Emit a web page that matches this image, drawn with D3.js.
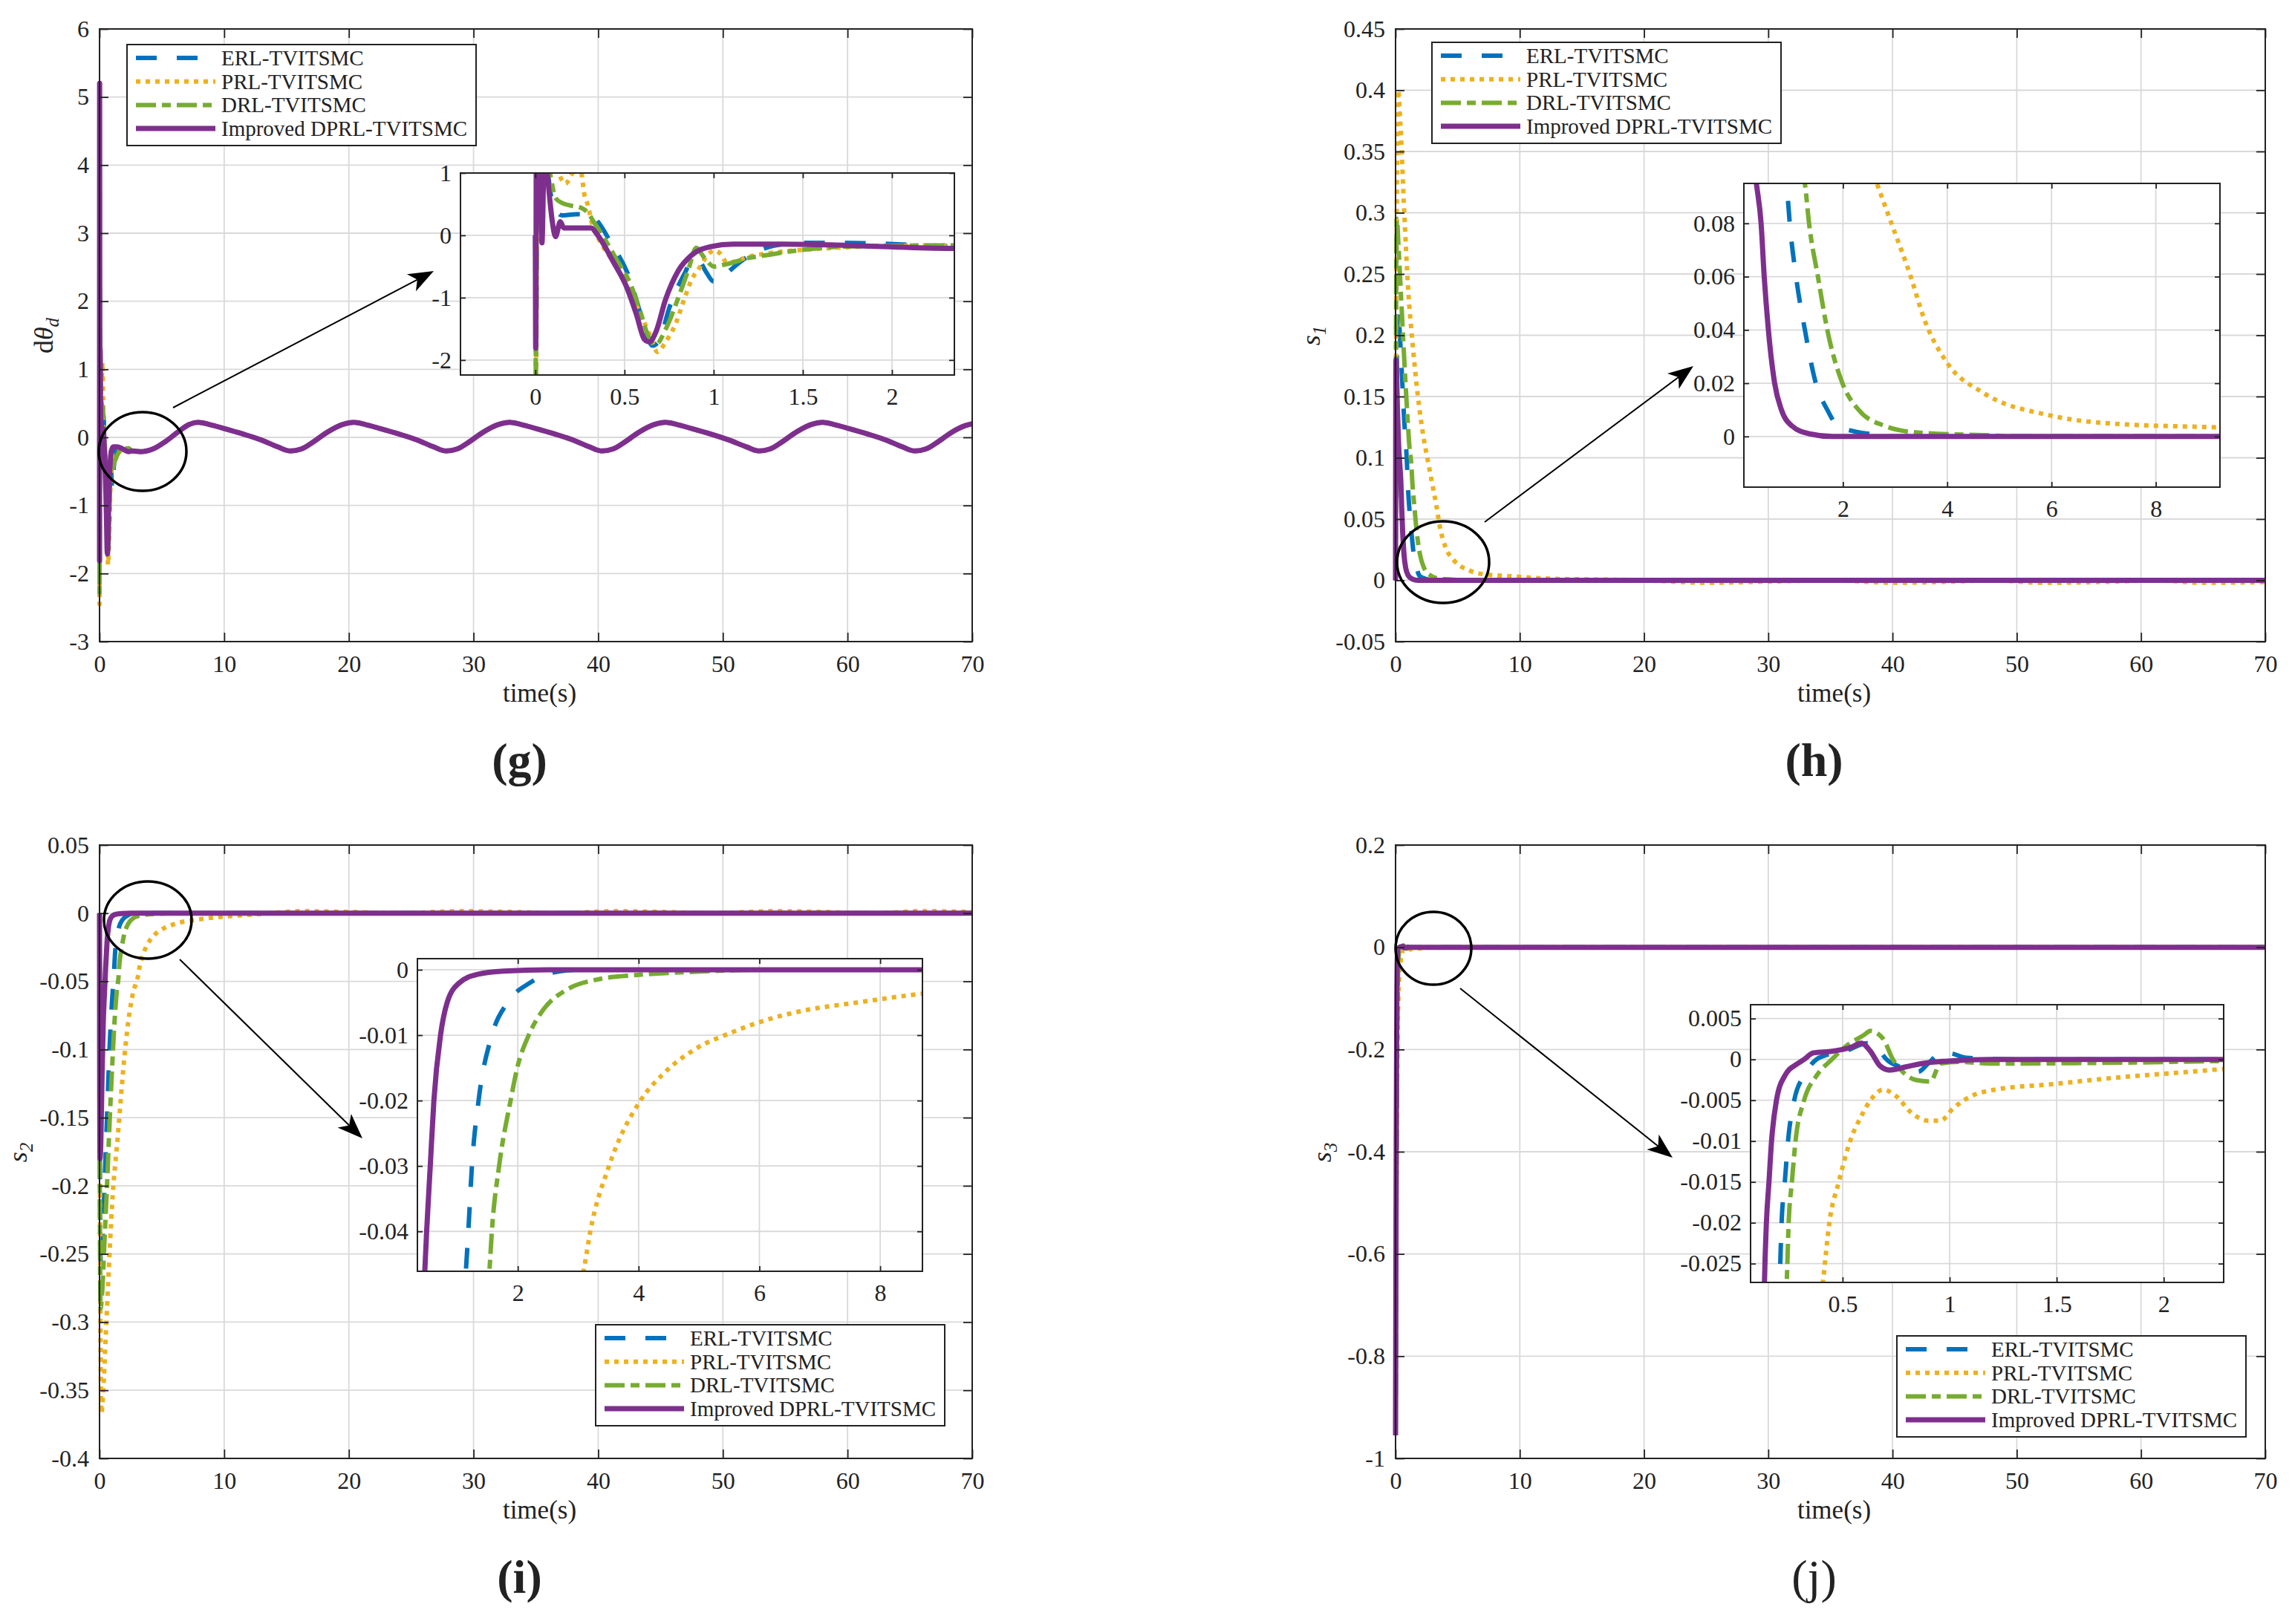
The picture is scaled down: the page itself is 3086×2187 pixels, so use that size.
<!DOCTYPE html>
<html lang="en">
<head>
<meta charset="UTF-8" />
<title>Sliding variables</title>
<style>
  body { margin: 0; background: #fff; }
  svg { display: block; }
  text { font-family: "Liberation Serif", "Times New Roman", serif; fill: #222; }
</style>
</head>
<body>
<svg id="svg" width="3086" height="2187"></svg>
<script src="https://cdn.jsdelivr.net/npm/d3@7"></script>
<script>
// ---------------- DATA ----------------
const seriesNames = ["ERL-TVITSMC", "PRL-TVITSMC", "DRL-TVITSMC", "Improved DPRL-TVITSMC"];

const timeTicks = [0, 10, 20, 30, 40, 50, 60, 70];
const timeLabels = ["0", "10", "20", "30", "40", "50", "60", "70"];

// (g) d theta_d : common slow oscillation after the transient
const gTail = [[2.6,-0.2],[3.3,-0.21],[4.3,-0.17],[5.3,-0.06],[6.3,0.08],[7.2,0.19],[7.9,0.22],[8.8,0.19],[10,0.13],[11.5,0.05],[13,-0.04],[14.3,-0.14],[15.3,-0.2],[16.2,-0.17],[17.2,-0.06],[18.3,0.08],[19.5,0.19],[20.4,0.22],[21.3,0.19],[22.5,0.13],[24,0.05],[25.5,-0.04],[26.8,-0.14],[27.8,-0.2],[28.7,-0.17],[29.7,-0.06],[30.8,0.08],[32,0.19],[32.9,0.22],[33.8,0.19],[35,0.13],[36.5,0.05],[38,-0.04],[39.3,-0.14],[40.3,-0.2],[41.2,-0.17],[42.2,-0.06],[43.3,0.08],[44.5,0.19],[45.4,0.22],[46.3,0.19],[47.5,0.13],[49,0.05],[50.5,-0.04],[51.9,-0.14],[52.9,-0.2],[53.8,-0.17],[54.8,-0.06],[55.9,0.08],[57.1,0.19],[58,0.22],[58.9,0.19],[60.1,0.13],[61.6,0.05],[63.1,-0.04],[64.4,-0.14],[65.4,-0.2],[66.3,-0.17],[67.3,-0.06],[68.4,0.08],[69.4,0.17],[70,0.2]];
const gERL = [[0,0],[0.004,-1.9],[0.012,2.5],[0.03,1.5],[0.06,1.2],[0.09,0.6],[0.113,0.42],[0.15,0.32],[0.231,0.34],[0.313,0.33],[0.35,0.22],[0.42,-0.1],[0.53,-0.7],[0.6,-1.35],[0.657,-1.77],[0.7,-1.65],[0.748,-1.19],[0.839,-0.6],[0.88,-0.4],[0.92,-0.42],[0.96,-0.6],[1.0,-0.74],[1.05,-0.68],[1.093,-0.56],[1.202,-0.32],[1.293,-0.2],[1.49,-0.12],[1.72,-0.12],[2.345,-0.18]];
const gPRL = [[0,0],[0.003,-2.45],[0.012,0.5],[0.05,1.2],[0.1,1.15],[0.168,0.83],[0.22,1.05],[0.25,1.1],[0.276,0.64],[0.295,0.48],[0.313,0.24],[0.367,-0.12],[0.422,-0.36],[0.512,-0.8],[0.585,-1.23],[0.64,-1.59],[0.685,-1.87],[0.73,-1.71],[0.785,-1.43],[0.839,-0.99],[0.875,-0.72],[0.92,-0.52],[0.966,-0.32],[1.002,-0.24],[1.04,-0.3],[1.075,-0.44],[1.2,-0.34],[1.383,-0.26],[1.565,-0.22],[1.746,-0.19],[2.345,-0.16]];
const gDRL = [[0,0],[0.003,-2.28],[0.01,1.6],[0.04,1.3],[0.077,1.05],[0.113,0.6],[0.15,0.52],[0.195,0.48],[0.258,0.44],[0.295,0.36],[0.331,0.2],[0.385,-0.04],[0.458,-0.4],[0.53,-0.76],[0.585,-1.19],[0.63,-1.59],[0.676,-1.75],[0.73,-1.51],[0.803,-0.99],[0.857,-0.56],[0.902,-0.2],[0.948,-0.36],[1.002,-0.5],[1.075,-0.46],[1.2,-0.36],[1.293,-0.32],[1.474,-0.24],[1.746,-0.18],[2.345,-0.16]];
const gDPRL = [[0,0],[0.002,-1.81],[0.008,5.2],[0.018,2.2],[0.028,1.1],[0.037,-0.12],[0.05,1.3],[0.065,1.05],[0.08,0.6],[0.095,0.22],[0.113,-0.02],[0.14,0.22],[0.159,0.12],[0.313,0.12],[0.35,0],[0.44,-0.44],[0.512,-0.83],[0.567,-1.27],[0.612,-1.67],[0.64,-1.71],[0.676,-1.55],[0.73,-1.03],[0.803,-0.56],[0.875,-0.32],[0.984,-0.18],[1.11,-0.14],[1.383,-0.14],[1.746,-0.16],[2.345,-0.21]];
const gYTicks = [-3, -2, -1, 0, 1, 2, 3, 4, 5, 6];
const gYLabels = ["-3", "-2", "-1", "0", "1", "2", "3", "4", "5", "6"];
const gInXTicks = [0, 0.5, 1, 1.5, 2];
const gInXLabels = ["0", "0.5", "1", "1.5", "2"];
const gInYTicks = [-2, -1, 0, 1];
const gInYLabels = ["-2", "-1", "0", "1"];

// (h) s1
const hERL = [[0,0],[0.05,0.12],[0.2,0.22],[0.35,0.2],[0.5,0.17],[0.7,0.13],[0.92,0.095],[0.98,0.08],[1.1,0.06],[1.27,0.04],[1.48,0.02],[1.7,0.01],[1.9,0.004],[2.2,0.002],[2.5,0.001],[3,0],[70,0]];
const hPRL = [[0,0],[0.05,0.2],[0.2,0.4],[0.4,0.37],[0.7,0.3],[1.0,0.24],[1.4,0.19],[1.8,0.15],[2.2,0.12],[2.65,0.095],[2.93,0.08],[3.3,0.06],[3.56,0.044],[4.0,0.0276],[4.69,0.0164],[5.95,0.008],[7.2,0.0048],[9.23,0.0034],[12,0.0015],[20,0],[25,-0.002],[30,-0.001],[35,0],[40,-0.002],[45,-0.001],[48,0],[52,-0.002],[58,-0.001],[61,0],[65,-0.002],[70,-0.0015]];
const hDRL = [[0,0],[0.04,0.2],[0.1,0.295],[0.25,0.27],[0.45,0.23],[0.7,0.18],[0.95,0.135],[1.15,0.105],[1.27,0.095],[1.35,0.08],[1.52,0.06],[1.7,0.04],[1.99,0.02],[2.3,0.01],[2.8,0.004],[3.43,0.0015],[4.7,0.0005],[5.5,0],[70,0]];
const hDPRL = [[0,0],[0.03,0.18],[0.08,0.17],[0.15,0.14],[0.25,0.11],[0.34,0.095],[0.43,0.08],[0.49,0.06],[0.57,0.04],[0.69,0.02],[0.82,0.01],[1.02,0.004],[1.36,0.001],[1.8,0],[70,0]];
const hYTicks = [-0.05, 0, 0.05, 0.1, 0.15, 0.2, 0.25, 0.3, 0.35, 0.4, 0.45];
const hYLabels = ["-0.05", "0", "0.05", "0.1", "0.15", "0.2", "0.25", "0.3", "0.35", "0.4", "0.45"];
const hInXTicks = [2, 4, 6, 8];
const hInXLabels = ["2", "4", "6", "8"];
const hInYTicks = [0, 0.02, 0.04, 0.06, 0.08];
const hInYLabels = ["0", "0.02", "0.04", "0.06", "0.08"];

// (i) s2
const iERL = [[0,0],[0.02,-0.15],[0.1,-0.26],[0.2,-0.25],[0.4,-0.2],[0.6,-0.15],[0.8,-0.1],[1.0,-0.065],[1.14,-0.046],[1.18,-0.04],[1.24,-0.03],[1.35,-0.02],[1.57,-0.01],[1.83,-0.005],[2.2,-0.002],[2.54,-0.0005],[3,0],[70,0]];
const iPRL = [[0,0],[0.03,-0.2],[0.15,-0.367],[0.3,-0.35],[0.5,-0.31],[0.7,-0.27],[1.0,-0.215],[1.5,-0.16],[1.9,-0.115],[2.3,-0.08],[2.7,-0.058],[3.09,-0.046],[3.2,-0.04],[3.51,-0.03],[4.03,-0.02],[4.41,-0.0159],[4.96,-0.012],[5.51,-0.0097],[6.07,-0.0078],[6.6,-0.0065],[7.7,-0.0049],[8.65,-0.0037],[10,-0.0025],[13,-0.0005],[16,0.0015],[20,0.001],[24,0],[29,0.0015],[33,0.001],[37,0],[41,0.0015],[45,0.001],[49,0],[54,0.0015],[58,0.001],[62,0],[66,0.0015],[70,0.001]];
const iDRL = [[0,0],[0.02,-0.18],[0.08,-0.29],[0.2,-0.28],[0.4,-0.24],[0.6,-0.2],[0.8,-0.155],[1.0,-0.115],[1.2,-0.08],[1.4,-0.056],[1.53,-0.046],[1.57,-0.04],[1.69,-0.03],[1.88,-0.02],[1.99,-0.015],[2.18,-0.01],[2.43,-0.006],[2.82,-0.003],[3.31,-0.0015],[3.97,-0.0008],[4.96,-0.0003],[6,0],[70,0]];
const iDPRL = [[0,0],[0.01,-0.1],[0.04,-0.18],[0.1,-0.17],[0.2,-0.12],[0.3,-0.08],[0.4,-0.058],[0.46,-0.046],[0.49,-0.04],[0.55,-0.03],[0.61,-0.02],[0.72,-0.01],[0.83,-0.005],[1.03,-0.002],[1.33,-0.0007],[1.77,-0.0002],[2.5,0],[70,0]];
const iYTicks = [-0.4, -0.35, -0.3, -0.25, -0.2, -0.15, -0.1, -0.05, 0, 0.05];
const iYLabels = ["-0.4", "-0.35", "-0.3", "-0.25", "-0.2", "-0.15", "-0.1", "-0.05", "0", "0.05"];
const iInXTicks = [2, 4, 6, 8];
const iInXLabels = ["2", "4", "6", "8"];
const iInYTicks = [-0.04, -0.03, -0.02, -0.01, 0];
const iInYLabels = ["-0.04", "-0.03", "-0.02", "-0.01", "0"];

// (j) s3
const jERL = [[0,-0.955],[0.04,-0.6],[0.08,-0.32],[0.12,-0.15],[0.16,-0.07],[0.19,-0.04],[0.206,-0.0273],[0.215,-0.02],[0.23,-0.015],[0.245,-0.01],[0.274,-0.005],[0.319,-0.002],[0.378,0],[0.42,0.0005],[0.51,0.001],[0.616,0.002],[0.66,0.0015],[0.705,0],[0.78,-0.001],[0.853,-0.0015],[0.9,-0.0005],[0.96,0.0008],[0.99,0.0008],[1.08,0.0002],[1.3,0],[70,0]];
const jPRL = [[0,-0.955],[0.06,-0.55],[0.12,-0.28],[0.2,-0.13],[0.28,-0.065],[0.35,-0.04],[0.408,-0.0273],[0.438,-0.02],[0.482,-0.015],[0.535,-0.01],[0.586,-0.007],[0.63,-0.005],[0.69,-0.0037],[0.75,-0.0045],[0.82,-0.0065],[0.9,-0.0075],[0.957,-0.0075],[1.016,-0.006],[1.1,-0.0045],[1.19,-0.0038],[1.49,-0.003],[1.79,-0.0022],[2.08,-0.0016],[2.27,-0.0012],[3,-0.0005],[5,0],[70,0]];
const jDRL = [[0,-0.955],[0.05,-0.58],[0.1,-0.3],[0.15,-0.13],[0.2,-0.055],[0.225,-0.035],[0.239,-0.0273],[0.248,-0.02],[0.263,-0.015],[0.28,-0.01],[0.32,-0.005],[0.378,-0.002],[0.45,0],[0.51,0.0015],[0.6,0.003],[0.63,0.0035],[0.69,0.0025],[0.735,0],[0.78,-0.0015],[0.84,-0.0025],[0.91,-0.0027],[0.957,-0.0005],[1.05,-0.0003],[1.19,-0.0005],[1.79,-0.0004],[2.28,-0.0002],[4,0],[70,0]];
const jDPRL = [[0,-0.955],[0.03,-0.62],[0.06,-0.35],[0.09,-0.17],[0.11,-0.08],[0.125,-0.045],[0.135,-0.0273],[0.144,-0.02],[0.156,-0.015],[0.168,-0.01],[0.191,-0.005],[0.23,-0.002],[0.29,-0.0005],[0.32,0],[0.363,0.0008],[0.45,0.001],[0.54,0.0015],[0.587,0.002],[0.63,0.001],[0.675,-0.0008],[0.72,-0.0013],[0.78,-0.001],[0.87,-0.0005],[0.99,-0.0002],[1.19,0],[70,0]];
const jYTicks = [-1, -0.8, -0.6, -0.4, -0.2, 0, 0.2];
const jYLabels = ["-1", "-0.8", "-0.6", "-0.4", "-0.2", "0", "0.2"];
const jInXTicks = [0.5, 1, 1.5, 2];
const jInXLabels = ["0.5", "1", "1.5", "2"];
const jInYTicks = [-0.025, -0.02, -0.015, -0.01, -0.005, 0, 0.005];
const jInYLabels = ["-0.025", "-0.02", "-0.015", "-0.01", "-0.005", "0", "0.005"];

// ---------------- STYLE / LAYOUT ----------------
const lineStyles = [
  { color: "#0072BD", width: 6, dash: "28,27" },
  { color: "#EDB120", width: 6, dash: "6,7" },
  { color: "#77AC30", width: 6, dash: "27,8,12,8" },
  { color: "#7E2F8E", width: 7, dash: null }
];
const FONT_TICK = 32;

const panels = [
  {
    id: "g", box: [134, 39, 1175, 825], yDomain: [-3, 6], yTicks: gYTicks, yLabels: gYLabels,
    series: [gERL.concat(gTail), gPRL.concat(gTail), gDRL.concat(gTail), gDPRL.concat(gTail)],
    inset: { box: [620, 233, 665, 272], xDomain: [-0.42, 2.35], yDomain: [-2.24, 1.0],
      xTicks: gInXTicks, xLabels: gInXLabels, yTicks: gInYTicks, yLabels: gInYLabels },
    legend: [171, 60], ellipse: [192, 608, 59, 53], arrow: [233, 549, 584, 365],
    ylabel: [71, 452], ytext: "dtheta", sub: "d", letter: "(g)", bold: true
  },
  {
    id: "h", box: [1879, 39, 1171, 825], yDomain: [-0.05, 0.45], yTicks: hYTicks, yLabels: hYLabels,
    series: [hERL, hPRL, hDRL, hDPRL],
    inset: { box: [2348, 247, 641, 409], xDomain: [0.1, 9.23], yDomain: [-0.019, 0.095],
      xTicks: hInXTicks, xLabels: hInXLabels, yTicks: hInYTicks, yLabels: hInYLabels },
    legend: [1928, 57], ellipse: [1943, 757, 62, 55], arrow: [1999, 703, 2280, 493],
    ylabel: [1777, 452], ytext: "s", sub: "1", letter: "(h)", bold: true
  },
  {
    id: "i", box: [134, 1138, 1175, 826], yDomain: [-0.4, 0.05], yTicks: iYTicks, yLabels: iYLabels,
    series: [iERL, iPRL, iDRL, iDPRL],
    inset: { box: [562, 1291, 680, 421], xDomain: [0.337, 8.70], yDomain: [-0.0461, 0.0017],
      xTicks: iInXTicks, xLabels: iInXLabels, yTicks: iInYTicks, yLabels: iInYLabels },
    legend: [802, 1784], ellipse: [199, 1239, 59, 52], arrow: [242, 1292, 488, 1533],
    ylabel: [36, 1552], ytext: "s", sub: "2", letter: "(i)", bold: true
  },
  {
    id: "j", box: [1879, 1138, 1171, 826], yDomain: [-1, 0.2], yTicks: jYTicks, yLabels: jYLabels,
    series: [jERL, jPRL, jDRL, jDPRL],
    inset: { box: [2357, 1353, 637, 374], xDomain: [0.07, 2.28], yDomain: [-0.0273, 0.0067],
      xTicks: jInXTicks, xLabels: jInXLabels, yTicks: jInYTicks, yLabels: jInYLabels },
    legend: [2554, 1799], ellipse: [1930, 1277, 51, 49], arrow: [1966, 1331, 2252, 1559],
    ylabel: [1792, 1552], ytext: "s", sub: "3", letter: "(j)", bold: false
  }
];

// ---------------- DRAWING ----------------
const svg = d3.select("#svg");
svg.append("rect").attr("width", 3086).attr("height", 2187).attr("fill", "#fff");

function labelOf(ticks, labels) {
  return (d) => labels[ticks.indexOf(d)];
}

// one axes box (main or inset) with grid, curves, inward ticks on all sides
function drawAxes(key, box, xDomain, yDomain, xTicks, xLabels, yTicks, yLabels, series, opt) {
  const [left, top, w, h] = box;
  const x = d3.scaleLinear().domain(xDomain).range([0, w]);
  const y = d3.scaleLinear().domain(yDomain).range([h, 0]);
  const g = svg.append("g").attr("transform", `translate(${left},${top})`);

  if (opt.white) g.append("rect").attr("width", w).attr("height", h).attr("fill", "#fff");

  // grid
  g.append("g").selectAll("line").data(xTicks).join("line")
    .attr("x1", (d) => x(d)).attr("x2", (d) => x(d)).attr("y1", 0).attr("y2", h)
    .attr("stroke", "#d9d9d9").attr("stroke-width", 1.8);
  g.append("g").selectAll("line").data(yTicks).join("line")
    .attr("x1", 0).attr("x2", w).attr("y1", (d) => y(d)).attr("y2", (d) => y(d))
    .attr("stroke", "#d9d9d9").attr("stroke-width", 1.8);

  // curves (main axes let the thick strokes spill a little over the box, like MATLAB)
  const m = opt.spill;
  g.append("clipPath").attr("id", "clip-" + key)
    .append("rect").attr("x", -m).attr("y", -m).attr("width", w + 2 * m).attr("height", h + 2 * m);
  const line = d3.line().x((d) => x(d[0])).y((d) => y(d[1])).curve(d3.curveMonotoneX);
  const lines = g.append("g").attr("clip-path", `url(#clip-${key})`);
  series.forEach((s, k) => {
    const st = lineStyles[k];
    lines.append("path").datum(s).attr("d", line)
      .attr("fill", "none").attr("stroke", st.color).attr("stroke-width", st.width)
      .attr("stroke-dasharray", st.dash).attr("stroke-linejoin", "round");
  });

  // axes with inward ticks
  const style = (sel) => {
    sel.select(".domain").remove();
    sel.attr("font-family", '"Liberation Serif", "Times New Roman", serif').attr("font-size", FONT_TICK);
    sel.selectAll(".tick line").attr("stroke", "#222").attr("stroke-width", 1.8);
    sel.selectAll(".tick text").attr("fill", "#222");
  };
  const tl = opt.tick;
  g.append("g").attr("transform", `translate(0,${h})`)
    .call(d3.axisBottom(x).tickValues(xTicks).tickFormat(labelOf(xTicks, xLabels)).tickSize(-tl).tickPadding(opt.pads[0]))
    .call(style);
  g.append("g")
    .call(d3.axisLeft(y).tickValues(yTicks).tickFormat(labelOf(yTicks, yLabels)).tickSize(-tl).tickPadding(opt.pads[1]))
    .call(style);
  g.append("g")
    .call(d3.axisTop(x).tickValues(xTicks).tickFormat("").tickSize(-tl))
    .call(style);
  g.append("g").attr("transform", `translate(${w},0)`)
    .call(d3.axisRight(y).tickValues(yTicks).tickFormat("").tickSize(-tl))
    .call(style);

  g.append("rect").attr("width", w).attr("height", h)
    .attr("fill", "none").attr("stroke", "#222").attr("stroke-width", 2);
  return g;
}

function drawArrow(x1, y1, x2, y2) {
  const dx = x2 - x1, dy = y2 - y1, L = Math.hypot(dx, dy);
  const ux = dx / L, uy = dy / L, px = -uy, py = ux;
  const hl = 34, hw = 13, notch = 9;
  const bx = x2 - ux * hl, by = y2 - uy * hl;
  svg.append("line").attr("x1", x1).attr("y1", y1)
    .attr("x2", bx + ux * notch).attr("y2", by + uy * notch)
    .attr("stroke", "#000").attr("stroke-width", 2);
  svg.append("path")
    .attr("d", `M${x2},${y2} L${bx + px * hw},${by + py * hw} L${bx + ux * notch},${by + uy * notch} L${bx - px * hw},${by - py * hw} Z`)
    .attr("fill", "#000");
}

function drawLegend(lx, ly) {
  const w = 470, h = 136;
  const g = svg.append("g").attr("transform", `translate(${lx},${ly})`);
  g.append("rect").attr("width", w).attr("height", h)
    .attr("fill", "#fff").attr("stroke", "#222").attr("stroke-width", 2);
  seriesNames.forEach((name, k) => {
    const st = lineStyles[k];
    const yy = 18 + k * 31.7;
    g.append("line").attr("x1", 12).attr("x2", 119).attr("y1", yy).attr("y2", yy)
      .attr("stroke", st.color).attr("stroke-width", st.width).attr("stroke-dasharray", st.dash);
    g.append("text").attr("x", 127).attr("y", yy).attr("dy", "0.34em")
      .attr("font-size", 29).text(name);
  });
}

panels.forEach((p) => {
  const [L, T, W, H] = p.box;
  drawAxes(p.id, p.box, [0, 70], p.yDomain, timeTicks, timeLabels, p.yTicks, p.yLabels, p.series,
    { white: false, spill: 4, tick: 12, pads: [18, 14] });

  // x label
  svg.append("text").attr("x", L + W / 2 + 5).attr("y", T + H + 81)
    .attr("text-anchor", "middle").attr("font-size", 35).text("time(s)");

  // y label (rotated)
  const yl = svg.append("text")
    .attr("transform", `translate(${p.ylabel[0]},${p.ylabel[1]}) rotate(-90)`)
    .attr("text-anchor", "middle").attr("font-size", 36);
  if (p.ytext === "dtheta") {
    yl.append("tspan").text("d");
    yl.append("tspan").attr("font-style", "italic").text("θ");
  } else {
    yl.append("tspan").attr("font-style", "italic").text(p.ytext);
  }
  yl.append("tspan").attr("font-style", "italic").attr("font-size", 25).attr("dy", 8).text(p.sub);

  // panel letter
  svg.append("text").attr("x", L + W / 2 - 22).attr("y", T + H + 181)
    .attr("text-anchor", "middle").attr("font-size", 64)
    .attr("font-weight", p.bold ? "bold" : "normal").text(p.letter);

  // ellipse + arrow
  const [ex, ey, rx, ry] = p.ellipse;
  svg.append("ellipse").attr("cx", ex).attr("cy", ey).attr("rx", rx).attr("ry", ry)
    .attr("fill", "none").attr("stroke", "#000").attr("stroke-width", 3.5);
  drawArrow(...p.arrow);

  // inset
  const ins = p.inset;
  drawAxes(p.id + "-in", ins.box, ins.xDomain, ins.yDomain,
    ins.xTicks, ins.xLabels, ins.yTicks, ins.yLabels, p.series,
    { white: true, spill: 0, tick: 7, pads: [17, 12] });

  drawLegend(...p.legend);
});
</script>
</body>
</html>
